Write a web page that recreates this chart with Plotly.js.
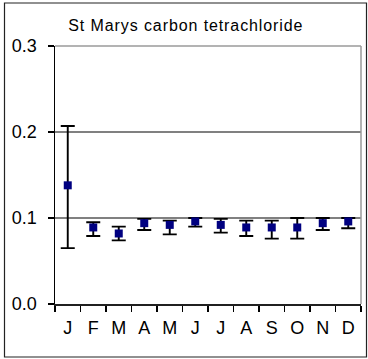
<!DOCTYPE html>
<html>
<head>
<meta charset="utf-8">
<script src="https://cdn.plot.ly/plotly-3.0.1.min.js"></script>
<style>
html,body{margin:0;padding:0;background:#fff;}
#chart{width:368px;height:359px;}
#chart .gtitle{letter-spacing:0.9px;}
</style>
</head>
<body>
<div id="chart"></div>
<script>
const months = ["J","F","M","A","M","J","J","A","S","O","N","D"];
const monthIndex = [1,2,3,4,5,6,7,8,9,10,11,12];
const meanValues = [0.138,0.089,0.082,0.094,0.092,0.096,0.092,0.089,0.089,0.089,0.094,0.096];
const upperValues = [0.207,0.095,0.090,0.099,0.097,0.100,0.099,0.097,0.097,0.100,0.100,0.100];
const lowerValues = [0.065,0.079,0.074,0.086,0.081,0.090,0.083,0.079,0.076,0.076,0.086,0.088];
const yTicks = [0.0,0.1,0.2,0.3];
const yTickText = ["0.0","0.1","0.2","0.3"];
const titleText = "St Marys carbon tetrachloride";

const errPlus = meanValues.map((m,i)=>upperValues[i]-m);
const errMinus = meanValues.map((m,i)=>m-lowerValues[i]);

const W = 368, H = 359;
const margin = {l:55, r:7, t:46, b:55};
const pw = W - margin.l - margin.r, ph = H - margin.t - margin.b;

const trace = {
  x: monthIndex, y: meanValues, type: "scatter", mode: "markers",
  marker: {symbol: "square", size: 8, color: "#000080"},
  error_y: {type: "data", symmetric: false, array: errPlus, arrayminus: errMinus,
            color: "#000000", thickness: 1.9, width: 7},
  showlegend: false, hoverinfo: "none"
};
const dummy = {x:[0.5,12.5], y:[0,0], xaxis:"x2", mode:"none", showlegend:false, hoverinfo:"none"};

const layout = {
  width: W, height: H, margin: margin,
  paper_bgcolor: "#ffffff", plot_bgcolor: "#ffffff",
  font: {family: "Liberation Sans, Arial, sans-serif", color: "#000000"},
  title: {text: titleText, font: {size: 16, color:"#000"}, xref: "container", x: 0.505, xanchor: "center",
          yref: "container", y: 1 - 25/H, yanchor: "middle"},
  xaxis: {range: [0.5,12.5], tickvals: monthIndex, ticktext: months, ticks: "", showgrid: false,
          zeroline: false, showline: false, tickfont: {size: 18}, ticklabelstandoff: 11, fixedrange: true},
  xaxis2: {range: [0.5,12.5], overlaying: "x", tickvals: [0.5,1.5,2.5,3.5,4.5,5.5,6.5,7.5,8.5,9.5,10.5,11.5,12.5],
           showticklabels: false, ticks: "outside", ticklen: 6, tickcolor: "#000", tickwidth: 1.3,
           showgrid: false, zeroline: false, showline: true, linecolor: "#202020", linewidth: 1.5, fixedrange: true},
  yaxis: {range: [0,0.3], tickvals: yTicks, ticktext: yTickText, ticks: "outside", ticklen: 6,
          tickcolor: "#000", tickwidth: 1.3, showline: true, linecolor: "#000", linewidth: 1.5,
          showgrid: true, gridcolor: "#808080", gridwidth: 1.2, zeroline: false,
          tickfont: {size: 18}, ticklabelstandoff: 7, fixedrange: true},
  shapes: [
    {type:"line", xref:"paper", yref:"paper", x0:0, x1:1, y0:1, y1:1, line:{color:"#9a9a9a", width:1.5}},
    {type:"line", xref:"paper", yref:"paper", x0:1, x1:1, y0:0, y1:1, line:{color:"#9a9a9a", width:1.5}},
    {type:"rect", xref:"paper", yref:"paper",
     x0:(4.5-margin.l)/pw, x1:(366.5-margin.l)/pw,
     y0:-(357-(H-margin.b))/ph, y1:1+(margin.t-3)/ph,
     line:{color:"#222", width:1.2}, fillcolor:"rgba(0,0,0,0)"}
  ]
};
Plotly.newPlot("chart", [trace, dummy], layout, {displayModeBar:false, staticPlot:true});
</script>
</body>
</html>
